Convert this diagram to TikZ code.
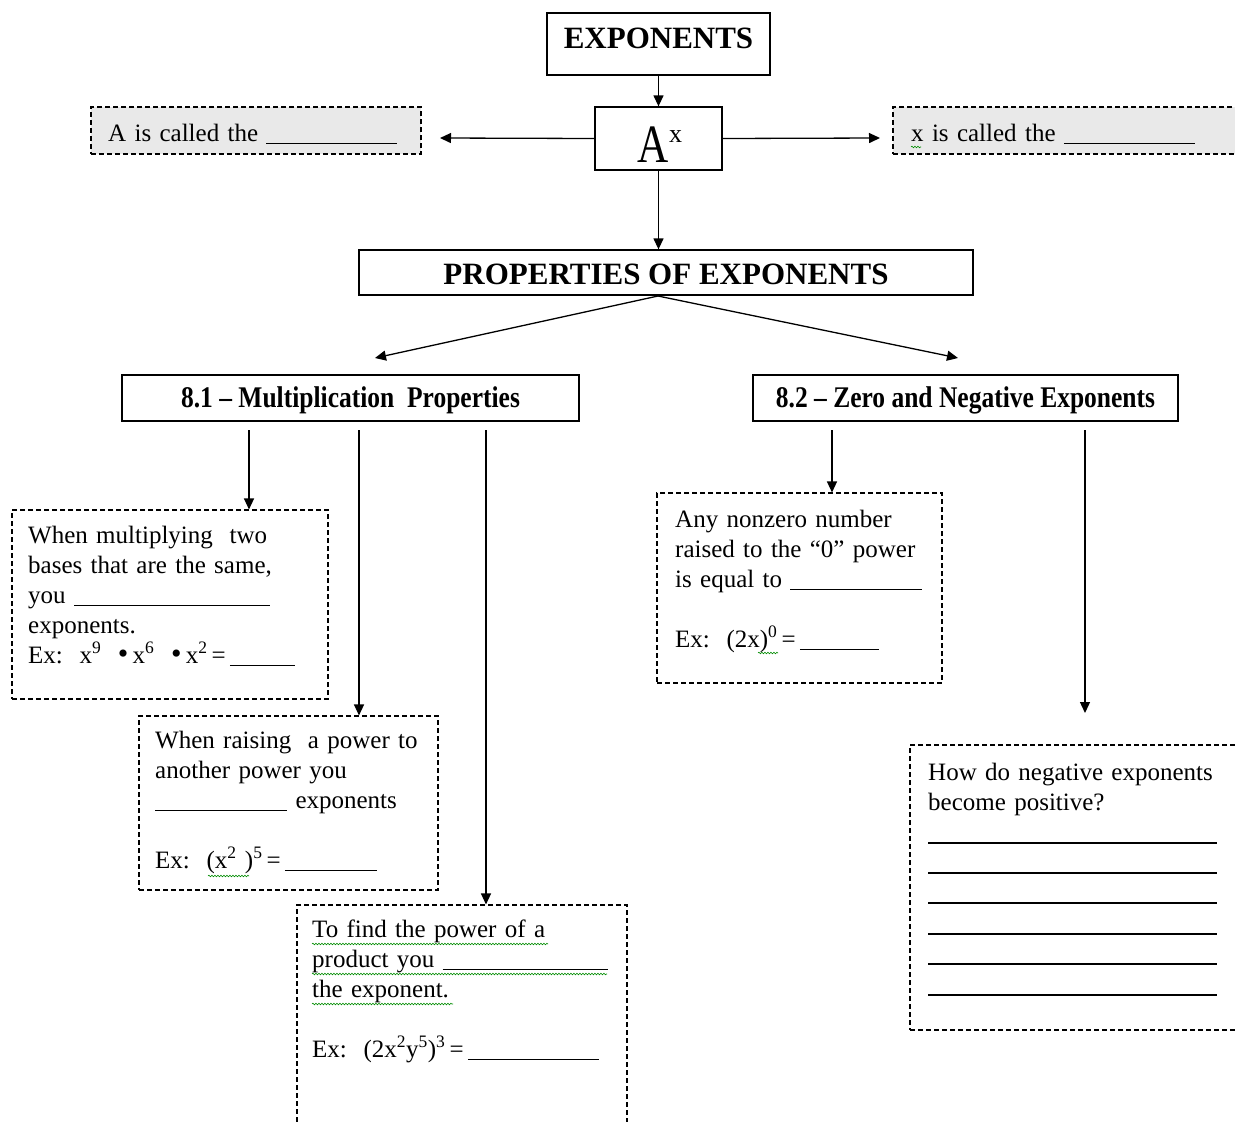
\documentclass[tikz,border=0pt]{standalone}
\usepackage{fontspec}
\setmainfont{Liberation Serif}
\usepackage{graphicx}
\usetikzlibrary{arrows.meta,decorations.pathmorphing}
\newcommand\blankln[1]{\rule[-3pt]{#1pt}{1pt}}
\newcommand\bigdot{{\fontsize{30}{30}\selectfont •}}
\begin{document}
\begin{tikzpicture}[x=1pt,y=-1pt,
  solidbox/.style={draw, line width=1.3pt, inner sep=0pt, fill=white},
  dashbox/.style={draw, line width=1.1pt, dash pattern=on 5pt off 3pt, inner sep=0pt},
  conn/.style={line width=1.3pt, -{Triangle[length=11pt,width=10pt]}},
  body/.style={font=\fontsize{25}{30}\selectfont, anchor=base west, inner sep=0pt, align=left, text width=#1},
  head/.style={font=\fontsize{31}{34}\selectfont\bfseries, inner sep=0pt, anchor=base},
  subhead/.style={font=\fontsize{30}{34}\selectfont\bfseries, inner sep=0pt, anchor=base},
  squig/.style={draw=green!55!black, line width=0.6pt, decorate, decoration={snake, segment length=3pt, amplitude=0.8pt}},
  rline/.style={line width=1.2pt},
]
\clip (0,0) rectangle (1235,1122);
\fill[white] (0,0) rectangle (1235,1122);
\definecolor{boxgray}{RGB}{233,233,233}

% boxes
\node[solidbox, minimum width=223pt, minimum height=62pt] (exp) at (658.5,44) {};
\node[solidbox, minimum width=127pt, minimum height=63pt] (ax) at (658.5,138.5) {};
\node[dashbox, fill=boxgray, minimum width=330pt, minimum height=47pt] (lbox) at (256,130.5) {};
\node[dashbox, fill=boxgray, minimum width=350pt, minimum height=47pt] (rbox) at (1068,130.5) {};
\node[solidbox, minimum width=614pt, minimum height=45pt] (props) at (666,272.5) {};
\node[solidbox, minimum width=457pt, minimum height=46pt] (b81) at (350.5,398) {};
\node[solidbox, minimum width=425pt, minimum height=46pt] (b82) at (965.5,398) {};
\node[dashbox, minimum width=316pt, minimum height=189pt] (m1) at (170,604.5) {};
\node[dashbox, minimum width=299pt, minimum height=174pt] (m2) at (288.5,803) {};
\node[dashbox, minimum width=330pt, minimum height=240pt] (m3) at (462,1025) {};
\node[dashbox, minimum width=285pt, minimum height=190pt] (z1) at (799.5,588) {};
\node[dashbox, minimum width=340pt, minimum height=285pt] (n1) at (1080,887.5) {};

% texts
\node[head] (texp) at (658.5,48.5) {EXPONENTS};
\node[inner sep=0pt, anchor=base] (tax) at (660,162) {\fontsize{54}{56}\selectfont\scalebox{0.8}[1]{A}\raisebox{20pt}{\fontsize{26}{26}\selectfont x}};
\node[body=320pt] (tl) at (108,141) {A is called the \blankln{131}};
\node[body=330pt] (tr) at (911,141) {x is called the \blankln{131}};
\node[head] (tprops) at (666,284) {PROPERTIES OF EXPONENTS};
\node[subhead] (t81) at (350.5,407) {\scalebox{0.85}[1]{8.1 – Multiplication\ \ Properties}};
\node[subhead] (t82) at (965.5,407) {\scalebox{0.85}[1]{8.2 – Zero and Negative Exponents}};
\node[body=300pt] (tm1) at (28,543) {When multiplying\ \ two\\bases that are the same,\\you \blankln{196}\\exponents.\\Ex:\ \ x\textsuperscript{9}\ \ \bigdot\,x\textsuperscript{6}\ \ \bigdot\,x\textsuperscript{2}\,=\,\blankln{65}};
\node[body=290pt] (tm2) at (155,748) {When raising\ \ a power to\\another power you\\\blankln{132} exponents\\[30pt]Ex:\ \ (x\textsuperscript{2} )\textsuperscript{5}\,=\,\blankln{92}};
\node[body=320pt] (tm3) at (312,937) {To find the power of a\\product you \blankln{165}\\the exponent.\\[30pt]Ex:\ \ (2x\textsuperscript{2}y\textsuperscript{5})\textsuperscript{3}\,=\,\blankln{131}};
\node[body=280pt] (tz1) at (675,527) {Any nonzero number\\raised to the “0” power\\is equal to \blankln{132}\\[30pt]Ex:\ \ (2x)\textsuperscript{0}\,=\,\blankln{79}};
\node[body=320pt] (tn1) at (928,780) {How do negative exponents\\become positive?};

% answer lines
\foreach \yy in {843,873,903,934,964,995} \draw[rline] (928,\yy) -- (1217,\yy);

% spell-check squiggles
\draw[squig] (312,944) -- (548,944);
\draw[squig] (312,974) -- (607,974);
\draw[squig] (312,1004) -- (453,1004);
\draw[squig] (911,147) -- (921,147);
\draw[squig] (208,876) -- (249,876);
\draw[squig] (758,653) -- (778,653);

% connector coordinates
\coordinate (lend) at (440,138);
\coordinate (rend) at (880,138);
\coordinate (ps) at (658,296);
\coordinate (a81) at (375,358);
\coordinate (a82) at (958,358);
\coordinate (s1) at (249,430);
\coordinate (s2) at (359,430);
\coordinate (s3) at (486,430);
\coordinate (s4) at (832,430);
\coordinate (s5) at (1085,430);
\coordinate (e5) at (1085,713);

% connectors
\draw[conn] (exp.south) -- (ax.north);
\draw[conn] (ax.west) -- (lend);
\draw[conn] (ax.east) -- (rend);
\draw[conn] (ax.south) -- (ax.south |- props.north);
\draw[conn] (ps) -- (a81);
\draw[conn] (ps) -- (a82);
\draw[conn] (s1) -- (s1 |- m1.north);
\draw[conn] (s2) -- (s2 |- m2.north);
\draw[conn] (s3) -- (s3 |- m3.north);
\draw[conn] (s4) -- (s4 |- z1.north);
\draw[conn] (s5) -- (e5);
\end{tikzpicture}
\end{document}
